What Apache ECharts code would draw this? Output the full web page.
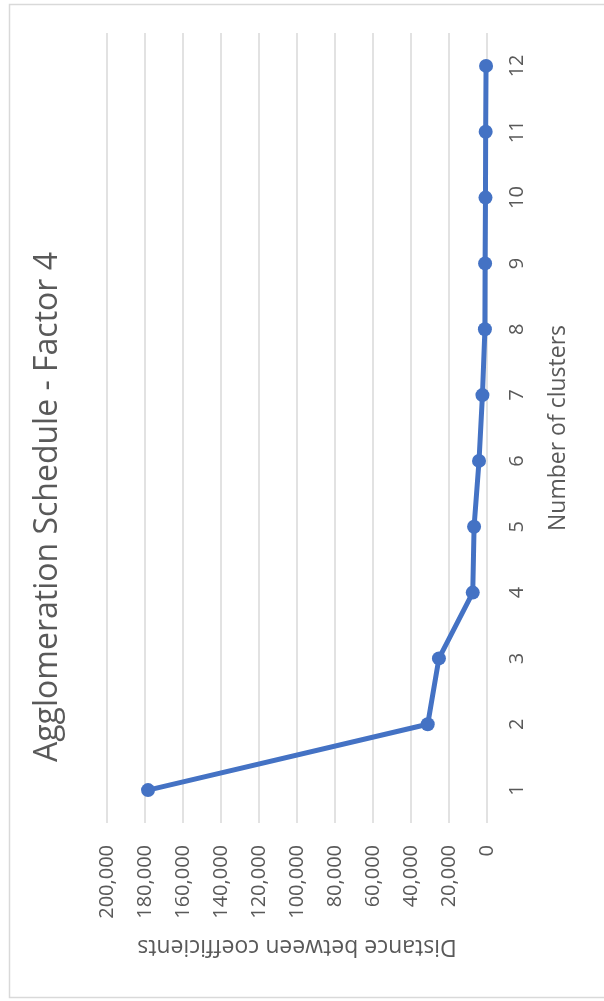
<!DOCTYPE html>
<html>
<head>
<meta charset="utf-8">
<script src="https://cdn.jsdelivr.net/npm/echarts@6/dist/echarts.min.js"></script>
<style>
  html, body { margin: 0; padding: 0; background: #ffffff; }
  #chart { width: 604px; height: 1001px; }
</style>
</head>
<body>
<div id="chart"></div>
<script>
// Agglomeration schedule: distance between successive coefficients per cluster count.
// The chart is laid out turned a quarter-turn: clusters run bottom-to-top, distance right-to-left.
const titleText = 'Agglomeration Schedule - Factor 4';
const clusterLabels = ['1', '2', '3', '4', '5', '6', '7', '8', '9', '10', '11', '12'];
const distances = [178400, 31200, 25300, 7500, 6800, 4200, 2400, 1100, 1000, 800, 700, 500];
const distanceTicks = [0, 20000, 40000, 60000, 80000, 100000, 120000, 140000, 160000, 180000, 200000];
const clusterAxisName = 'Number of clusters';
const distanceAxisName = 'Distance between coefficients';

const textColor = '#595959';
const gridColor = '#d9d9d9';
const lineColor = '#4472C4';
const fontFamily = '"Open Sans", "Liberation Sans", sans-serif';

const chart = echarts.init(document.getElementById('chart'), null, { renderer: 'canvas' });

const fmt = v => String(v).replace(/\B(?=(\d{3})+(?!\d))/g, ',');

chart.setOption({
  backgroundColor: '#ffffff',
  animation: false,
  grid: { left: 107, right: 117, top: 33, bottom: 178, containLabel: false },
  xAxis: {
    type: 'value',
    inverse: true,
    position: 'bottom',
    min: distanceTicks[0],
    max: distanceTicks[distanceTicks.length - 1],
    interval: distanceTicks[1] - distanceTicks[0],
    axisLine: { show: false },
    axisTick: { show: false },
    splitLine: { show: true, lineStyle: { color: gridColor, width: 1.5 } },
    axisLabel: {
      rotate: 90,
      margin: 22,
      color: textColor,
      fontSize: 20,
      fontFamily: fontFamily,
      formatter: v => fmt(v)
    },
    name: distanceAxisName,
    nameLocation: 'middle',
    nameRotate: 180,
    nameGap: 112,
    nameTextStyle: { color: textColor, fontSize: 23, fontFamily: fontFamily }
  },
  yAxis: {
    type: 'category',
    position: 'right',
    data: clusterLabels,
    boundaryGap: true,
    axisLine: { show: false },
    axisTick: { show: false },
    splitLine: { show: false },
    axisLabel: {
      rotate: 90,
      margin: 20,
      color: textColor,
      fontSize: 20,
      fontFamily: fontFamily
    },
    name: clusterAxisName,
    nameLocation: 'middle',
    nameRotate: 90,
    nameGap: 60,
    nameTextStyle: { color: textColor, fontSize: 23, fontFamily: fontFamily }
  },
  graphic: [
    {
      type: 'rect',
      silent: true,
      shape: { x: 9.5, y: 4.5, width: 620, height: 993 },
      style: { fill: 'none', stroke: '#d9d9d9', lineWidth: 1.5 }
    },
    {
      type: 'text',
      silent: true,
      x: 48,
      y: 507,
      rotation: Math.PI / 2,
      style: {
        text: titleText,
        fill: textColor,
        font: '32px ' + fontFamily,
        align: 'center',
        verticalAlign: 'middle'
      }
    }
  ],
  series: [
    {
      type: 'line',
      data: distances,
      symbol: 'circle',
      symbolSize: 14,
      lineStyle: { color: lineColor, width: 5 },
      itemStyle: { color: lineColor },
      z: 3
    }
  ]
});
</script>
</body>
</html>
